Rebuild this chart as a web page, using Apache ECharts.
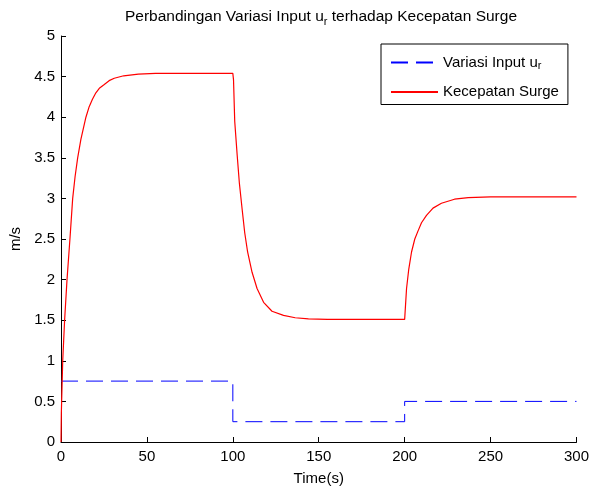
<!DOCTYPE html>
<html>
<head>
<meta charset="utf-8">
<script src="https://cdn.jsdelivr.net/npm/echarts@6/dist/echarts.min.js"></script>
<style>
html,body{margin:0;padding:0;background:#fff;}
#chart{width:592px;height:491px;}
</style>
</head>
<body>
<div id="chart"></div>
<script>
// Data
var inputTime = [0, 100, 100, 200, 200, 300];
var inputValue = [0.75, 0.75, 0.25, 0.25, 0.5, 0.5];

var surgeTime = [0, 0.2, 1.0, 2.1, 3.5, 5.2, 6.8, 8.2, 9.7, 11.6, 14.5, 16.4, 18.3, 20.3, 22.5, 25, 28, 31, 36.5, 45, 55, 100,
  100.4, 101.1, 102.5, 103.8, 105.4, 106.9, 108.6, 111.2, 114.1, 117.9, 122.8, 129.5, 136.3, 144, 155, 200,
  201.1, 202.4, 204, 205.9, 207.8, 209.8, 212.7, 216.5, 221.4, 229, 237, 250, 300];
var surgeValue = [0, 0.36, 1.0, 1.5, 2.0, 2.5, 3.0, 3.27, 3.5, 3.73, 4.0, 4.13, 4.22, 4.30, 4.36, 4.40, 4.45, 4.48, 4.51, 4.53, 4.54, 4.54,
  4.46, 3.95, 3.54, 3.19, 2.87, 2.58, 2.34, 2.09, 1.89, 1.72, 1.61, 1.56, 1.53, 1.516, 1.51, 1.51,
  1.89, 2.13, 2.34, 2.5, 2.60, 2.70, 2.79, 2.88, 2.94, 2.99, 3.01, 3.02, 3.02];

var xTicks = {min: 0, max: 300, interval: 50};
var yTicks = {min: 0, max: 5, interval: 0.5};

var seriesNames = ['Variasi Input u_r', 'Kecepatan Surge'];
var titleParts = ['Perbandingan Variasi Input u', 'r', ' terhadap Kecepatan Surge'];

function zip(a, b) { return a.map(function (v, i) { return [v, b[i]]; }); }

var FONT = 'Liberation Sans, Arial, sans-serif';
var chart = echarts.init(document.getElementById('chart'), null, {renderer: 'canvas'});

chart.setOption({
  backgroundColor: '#ffffff',
  animation: false,
  title: {
    text: '{a|' + titleParts[0] + '}{s|' + titleParts[1] + '}{a|' + titleParts[2] + '}',
    left: 316, top: 2, textAlign: 'center',
    textStyle: {
      fontWeight: 'normal',
      rich: {
        a: {fontSize: 15.5, fontFamily: FONT, fontWeight: 'normal', color: '#000', lineHeight: 20, verticalAlign: 'middle'},
        s: {fontSize: 11, fontFamily: FONT, fontWeight: 'normal', color: '#000', verticalAlign: 'bottom'}
      }
    }
  },
  legend: {
    orient: 'vertical',
    left: 381, top: 44,
    padding: [11, 9, 5, 9],
    itemWidth: 47, itemHeight: 14, itemGap: 13,
    borderColor: '#000', borderWidth: 1, backgroundColor: '#fff',
    itemStyle: {color: 'rgba(0,0,0,0)', borderWidth: 0, opacity: 0},
    data: seriesNames,
    formatter: function (name) {
      if (name === seriesNames[0]) return '{a|Variasi Input u}{s|r}';
      return '{a|' + name + '}';
    },
    textStyle: {
      rich: {
        a: {fontSize: 15, fontFamily: FONT, color: '#000', lineHeight: 18, verticalAlign: 'middle'},
        s: {fontSize: 11, fontFamily: FONT, color: '#000', verticalAlign: 'bottom'}
      }
    }
  },
  grid: {left: 60, right: 15, top: 36, bottom: 47, containLabel: false},
  xAxis: {
    type: 'value', min: xTicks.min, max: xTicks.max, interval: xTicks.interval,
    name: 'Time(s)', nameLocation: 'middle', nameGap: 29,
    nameTextStyle: {fontSize: 15, fontFamily: FONT, color: '#000'},
    axisLine: {lineStyle: {color: '#000', width: 1}},
    axisTick: {inside: true, length: 5, lineStyle: {color: '#000'}},
    axisLabel: {fontSize: 15, fontFamily: FONT, color: '#000', margin: 7},
    splitLine: {show: false}
  },
  yAxis: {
    type: 'value', min: yTicks.min, max: yTicks.max, interval: yTicks.interval,
    name: 'm/s', nameLocation: 'middle', nameGap: 38,
    nameTextStyle: {fontSize: 15, fontFamily: FONT, color: '#000'},
    axisLine: {show: true, lineStyle: {color: '#000', width: 1}},
    axisTick: {show: true, inside: true, length: 5, lineStyle: {color: '#000'}},
    axisLabel: {fontSize: 15, fontFamily: FONT, color: '#000', margin: 6},
    splitLine: {show: false}
  },
  series: [
    {
      name: seriesNames[0], type: 'line', data: zip(inputTime, inputValue),
      symbol: 'none', showSymbol: false,
      lineStyle: {color: '#0000ff', width: 1, type: [17, 8]},
      itemStyle: {color: '#0000ff'}, z: 2
    },
    {
      name: seriesNames[1], type: 'line', data: zip(surgeTime, surgeValue),
      symbol: 'none', showSymbol: false,
      lineStyle: {color: '#ff0000', width: 1.2},
      itemStyle: {color: '#ff0000'}, z: 3
    }
  ]
});
</script>
</body>
</html>
